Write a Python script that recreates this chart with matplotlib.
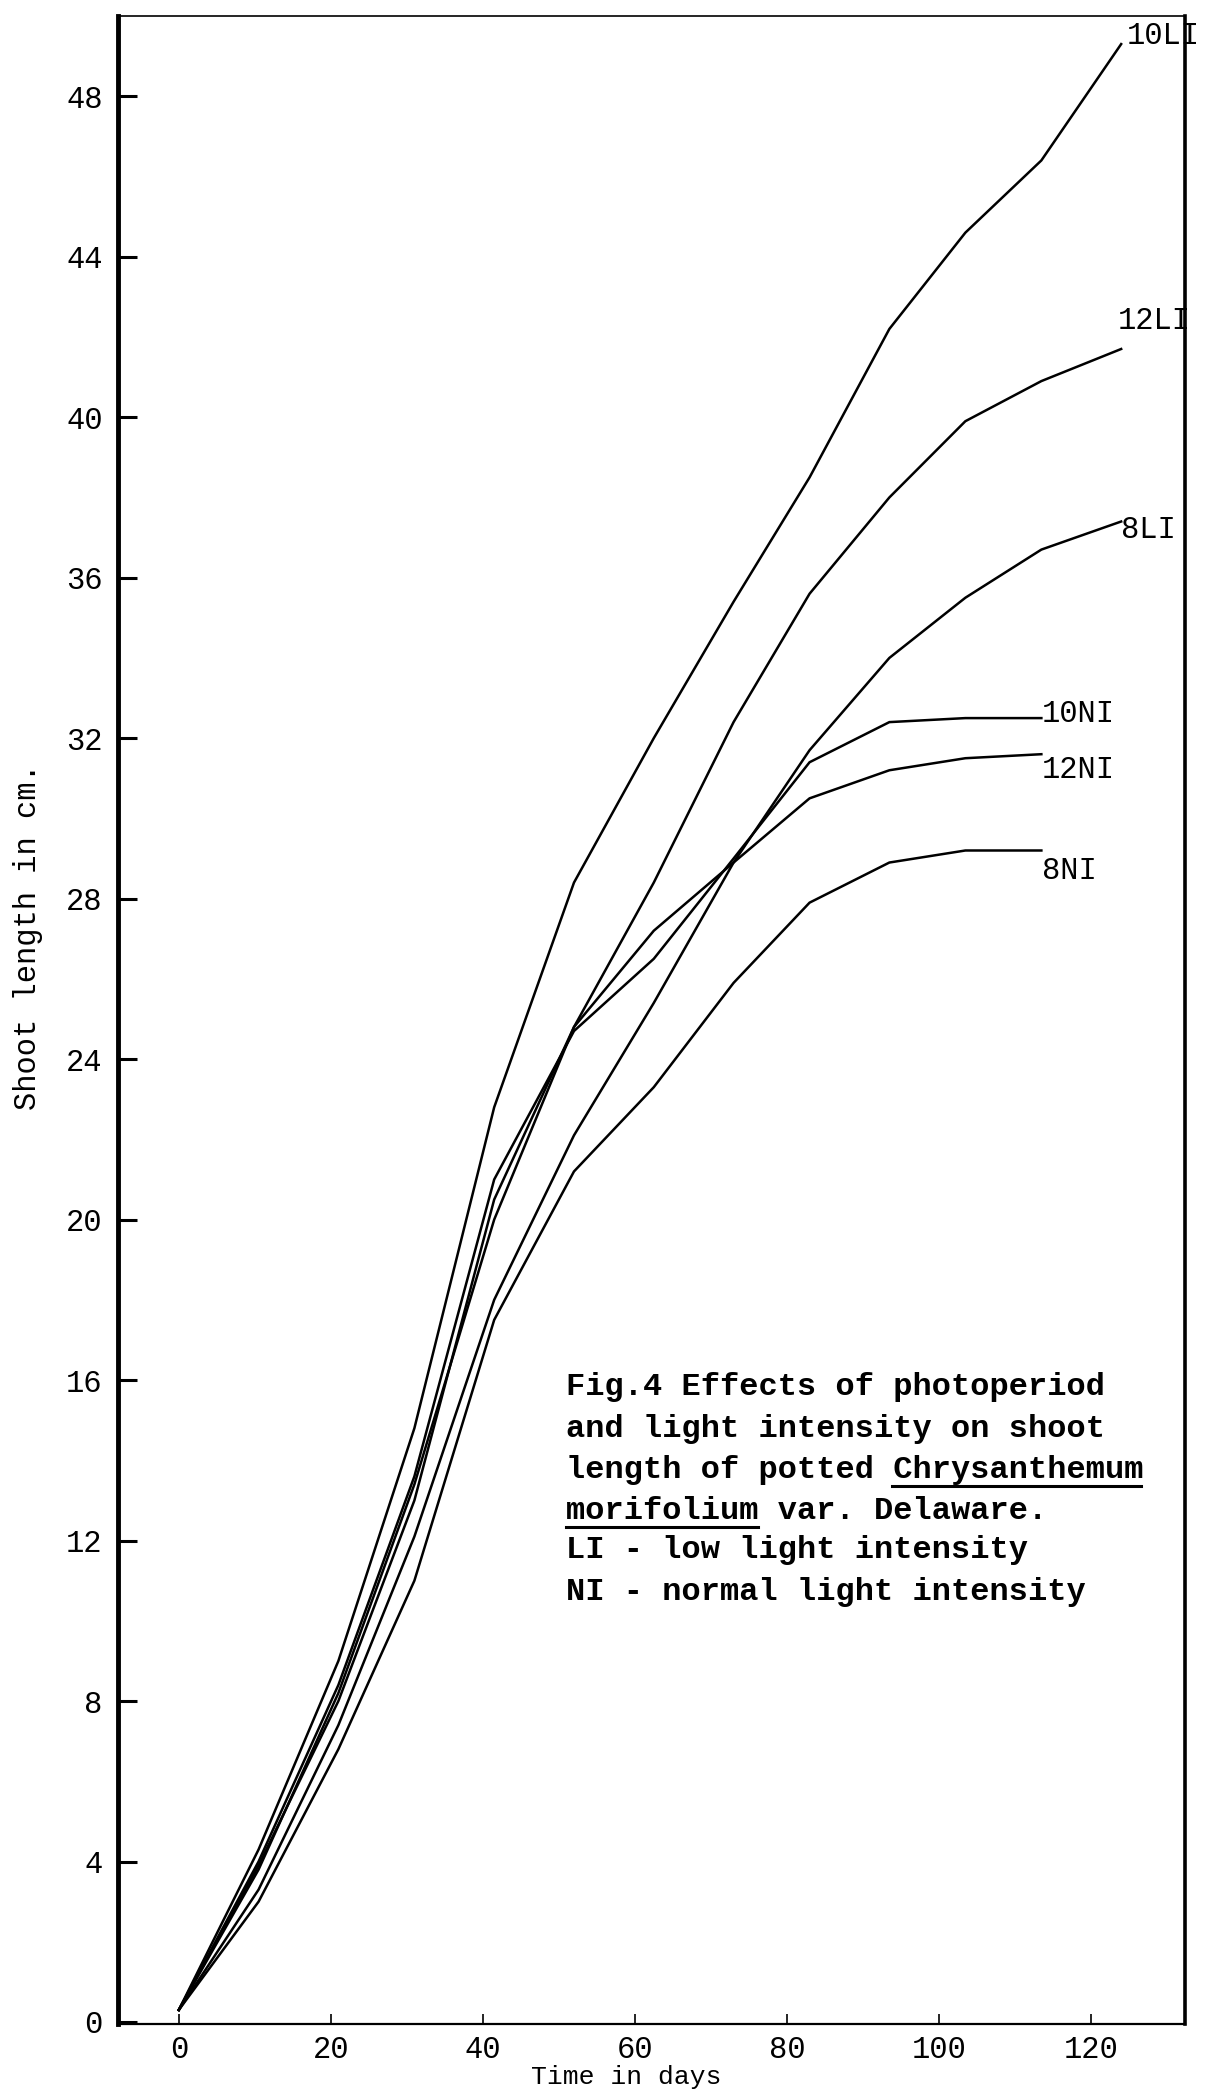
import matplotlib
matplotlib.use("Agg")
import matplotlib.pyplot as plt
from matplotlib.lines import Line2D

# sampling days (LI series run one reading longer than NI series)
days_li = [0, 10.5, 21, 31, 41.5, 52, 62.5, 73, 83, 93.5, 103.5, 113.5, 124]
days_ni = [0, 10.5, 21, 31, 41.5, 52, 62.5, 73, 83, 93.5, 103.5, 113.5]

# shoot length, cm
li_10 = [0.3, 4.3, 9.0, 14.8, 22.8, 28.4, 32.0, 35.4, 38.5, 42.2, 44.6, 46.4, 49.3]
li_12 = [0.3, 3.8, 8.2, 13.4, 20.0, 24.8, 28.4, 32.4, 35.6, 38.0, 39.9, 40.9, 41.7]
li_8 = [0.3, 3.3, 7.4, 12.1, 18.0, 22.1, 25.4, 28.9, 31.7, 34.0, 35.5, 36.7, 37.4]
ni_10 = [0.3, 4.0, 8.4, 13.6, 21.0, 24.7, 26.5, 29.0, 31.4, 32.4, 32.5, 32.5]
ni_12 = [0.3, 3.9, 8.0, 13.0, 20.5, 24.8, 27.2, 28.9, 30.5, 31.2, 31.5, 31.6]
ni_8 = [0.3, 3.0, 6.8, 11.0, 17.5, 21.2, 23.3, 25.9, 27.9, 28.9, 29.2, 29.2]

series = [
    ("10LI", days_li, li_10, (124.8, 49.5)),
    ("12LI", days_li, li_12, (123.6, 42.4)),
    ("8LI", days_li, li_8, (124.0, 37.2)),
    ("10NI", days_ni, ni_10, (113.6, 32.6)),
    ("12NI", days_ni, ni_12, (113.6, 31.2)),
    ("8NI", days_ni, ni_8, (113.6, 28.7)),
]

x_ticks = [0, 20, 40, 60, 80, 100, 120]
y_ticks = list(range(0, 49, 4))

caption = [
    "Fig.4 Effects of photoperiod",
    "and light intensity on shoot",
    "length of potted Chrysanthemum",
    "morifolium var. Delaware.",
    "LI - low light intensity",
    "NI - normal light intensity",
]

MONO = ["Liberation Mono", "DejaVu Sans Mono"]
W, H = 1208, 2089


def fx(px):
    return px / W


def fy(py):
    return 1 - py / H


fig = plt.figure(figsize=(W / 100, H / 100), dpi=100)
ax = fig.add_axes([fx(118), fy(2024), fx(1185) - fx(118), fy(16) - fy(2024)])

for name, xs, ys, (lx, ly) in series:
    ax.plot(xs, ys, color="black", lw=1.8, solid_joinstyle="miter")
    ax.text(lx, ly, name, family=MONO, fontsize=22, ha="left", va="center")

ax.set_xlim(-8.0, 132.4)
ax.set_ylim(-0.05, 50.0)
ax.set_xticks(x_ticks)
ax.set_yticks(y_ticks)
ax.tick_params(axis="y", direction="in", length=14, width=2.2, pad=11,
               labelsize=22, labelfontfamily=MONO)
ax.tick_params(axis="x", direction="in", length=7, width=1.2, pad=8,
               labelsize=22, labelfontfamily=MONO)

ax.spines["left"].set_linewidth(3.5)
ax.spines["right"].set_linewidth(2.6)
ax.spines["top"].set_linewidth(1.2)
ax.spines["bottom"].set_linewidth(1.6)

fig.text(fx(28), fy(937), "Shoot length in cm.", family=MONO, fontsize=22,
         rotation=90, ha="center", va="center")
fig.text(fx(626), fy(2077), "Time in days", family=MONO, fontsize=19,
         ha="center", va="center")

# caption block, typewritten
x0 = 566
baselines = [1395, 1437, 1478, 1519, 1558, 1600]
fs = 23
char_w = 0.6 * fs * 100 / 72
for line, base in zip(caption, baselines):
    fig.text(fx(x0), fy(base), line, family=MONO, fontsize=fs,
             fontweight="bold", ha="left", va="baseline")

# underline the species name
for row, start, n in [(2, 17, 13), (3, 0, 10)]:
    ul_y = baselines[row] + 8
    fig.add_artist(Line2D([fx(x0 + start * char_w), fx(x0 + (start + n) * char_w)],
                          [fy(ul_y), fy(ul_y)], transform=fig.transFigure,
                          color="black", lw=2.2))

fig.savefig("out.png", dpi=100, facecolor="white")
